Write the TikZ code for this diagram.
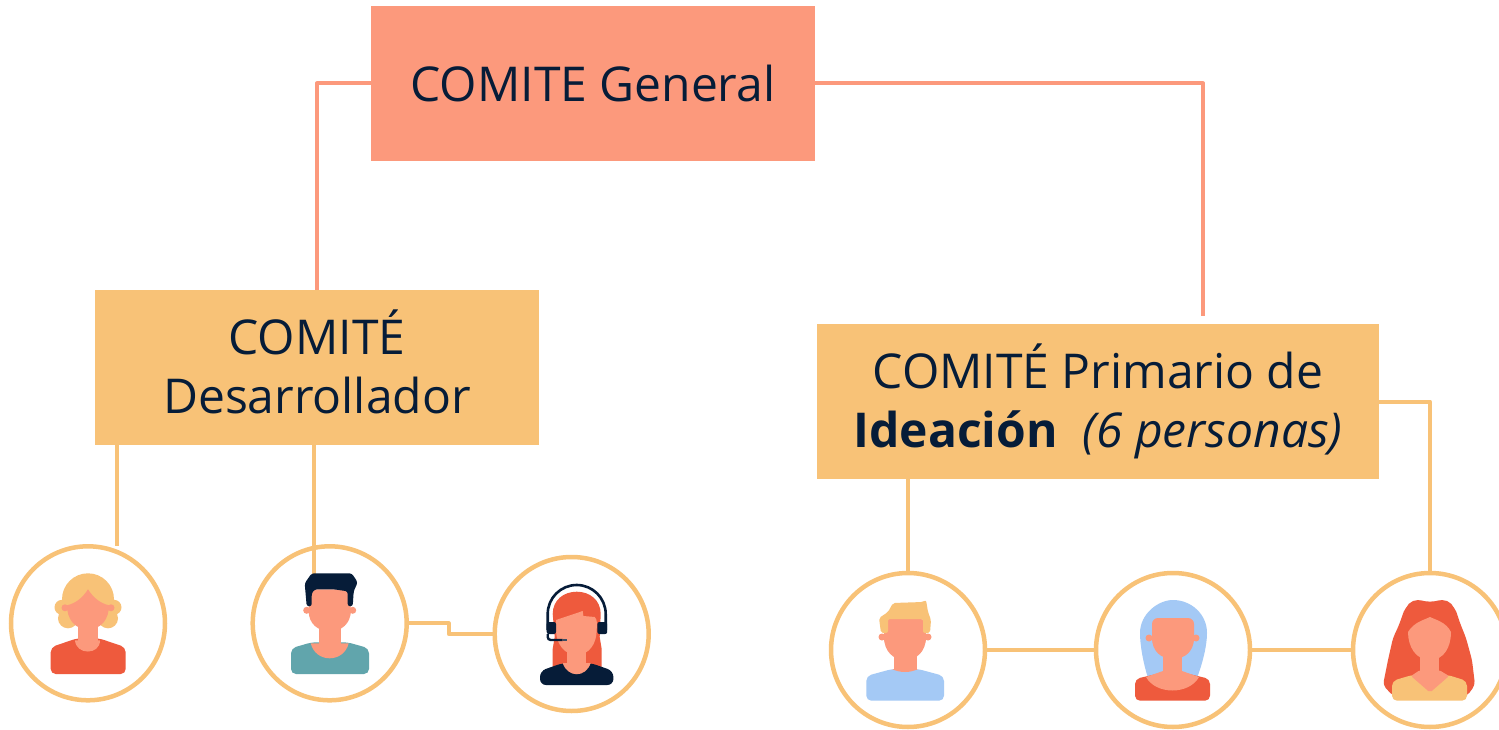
\documentclass[tikz,border=0pt]{standalone}
\usepackage{fontspec}
\setmainfont{Open Sans}
\usetikzlibrary{positioning,calc}
\definecolor{salmonpink}{RGB}{252,153,124}
\definecolor{sandorange}{RGB}{248,194,119}
\definecolor{deepnavy}{RGB}{6,28,56}
\definecolor{hairred}{RGB}{238,90,61}
\definecolor{skyblue}{RGB}{164,201,245}
\definecolor{shirtteal}{RGB}{97,165,172}
\definecolor{micgrey}{RGB}{62,78,100}
\tikzset{
    titlebox/.style={rectangle, minimum width=444pt, minimum height=155pt, inner sep=0pt, outer sep=0pt, align=center, text=deepnavy, font=\fontsize{48}{59}\selectfont},
    persona/.style={circle, draw=sandorange, line width=4.5pt, fill=white, minimum size=154pt, inner sep=0pt, outer sep=0pt},
    salmonline/.style={draw=salmonpink, line width=4pt, line join=round},
    sandline/.style={draw=sandorange, line width=4pt, line join=round}
}
% shoulders: colour, left x, right x, top of shoulder y, left neck x, right neck x, neck y
\newcommand{\shoulders}[7]{\fill[#1, rounded corners=5pt] (#2,50.7) -- (#2,#4+2) -- (#5,#7) -- (#6,#7) -- (#3,#4+2) -- (#3,50.7) -- cycle;}
\begin{document}
\begin{tikzpicture}[x=1pt, y=-1pt]
    \useasboundingbox (0,0) rectangle (1499,730);
    \clip (0,0) rectangle (1499,730);

    % Committees
    \node[titlebox, fill=salmonpink] (general) at (593,83.5) {COMITE General};
    \node[titlebox, fill=sandorange] (desarrollador) at (317,367.5) {COMITÉ\\Desarrollador\vphantom{(p}};
    \node[titlebox, fill=sandorange, minimum width=562pt] (primario) at (1098,401.5) {COMITÉ Primario de\\\textbf{Ideación}\ \ \textit{(6 personas)}};

    % People
    \node[persona] (personaA) at (88,623.3) {};
    \node[persona] (personaB) at (329.7,623.3) {};
    \node[persona] (personaC) at (571.7,634) {};
    \node[persona] (personaD) at (908,650) {};
    \node[persona] (personaE) at (1173,650) {};
    \node[persona] (personaF) at (1430,650) {};

    % Free ends
    \coordinate (tipPrimario) at (1203,316);
    \coordinate (tipA) at (117,546);
    \coordinate (tipB) at (314,576);

    % Connectors
    \draw[salmonline] (general.west) -| (desarrollador.north);
    \draw[salmonline] (general.east) -| (tipPrimario);
    \draw[sandline] (desarrollador.south -| tipA) -- (tipA);
    \draw[sandline] (desarrollador.south -| tipB) -- (tipB);
    \draw[sandline] (personaB.east) -- ++(42,0) |- (personaC.west);
    \draw[sandline] (primario.south -| personaD.north) -- (personaD.north);
    \draw[sandline] (primario.east) -| (personaF.north);
    \draw[sandline] (personaD.east) -- (personaE.west);
    \draw[sandline] (personaE.east) -- (personaF.west);

    % Blonde woman
    \begin{scope}[shift={(88,623.3)}]
        \fill[sandorange] (0,-24) circle (26pt) (-26,-16) circle (7.5pt) (26,-16) circle (7.5pt) (-20,-5) circle (10pt) (20,-5) circle (10pt) (-26,-24) rectangle (26,-5);
        \shoulders{hairred}{-37.3}{37.7}{22}{-11}{11}{15}
        \fill[salmonpink] (-10,0) rectangle (10,20);
        \fill[salmonpink] (-13,17) .. controls (-12,32) and (12,32) .. (12,17) -- cycle;
        \fill[salmonpink] (0,-34) .. controls (-5,-26) and (-12,-20) .. (-21,-18) .. controls (-21,-5) and (-14,6) .. (0,6) .. controls (14,6) and (21,-5) .. (21,-18) .. controls (12,-20) and (5,-26) .. (0,-34) -- cycle;
        \fill[salmonpink] (-23,-15.5) circle (3.5pt) (23,-15.5) circle (3.5pt);
    \end{scope}

    % Dark haired man
    \begin{scope}[shift={(329.7,623.3)}]
        \shoulders{shirtteal}{-38.7}{39.3}{23}{-18}{18}{19}
        \fill[salmonpink] (-11,0) rectangle (11,24);
        \fill[salmonpink] (-19,20) .. controls (-14,40) and (14,40) .. (19,20) -- cycle;
        \fill[salmonpink, rounded corners=6pt] (-21,-34) rectangle (21,-5);
        \fill[salmonpink] (-21,-12) .. controls (-21,0) and (-12,8) .. (0,8) .. controls (12,8) and (21,0) .. (21,-12) -- cycle;
        \fill[salmonpink] (-23,-13) circle (3.5pt) (23,-13) circle (3.5pt);
        \fill[deepnavy, rounded corners=2.5pt] (-25,-40) -- (-18,-50) -- (22,-50) -- (28,-41) -- (24,-32) -- (23,-17) -- (18,-17) -- (18,-32) -- (4,-34) -- (-15,-34) -- (-18,-30) -- (-18,-17) -- (-23,-17) -- cycle;
    \end{scope}

    % Woman with headset
    \begin{scope}[shift={(571.7,634)}]
        \fill[hairred] (-19,33) -- (-19,15) -- (-17,3) -- (-19,-20) .. controls (-19,-34) and (-8,-42.3) .. (5,-42.3) .. controls (18,-42.3) and (29,-34) .. (29,-20) -- (28,3) -- (30,15) -- (30,33) -- cycle;
        \fill[deepnavy, rounded corners=6pt] (-31.7,51) -- (-31.7,37) -- (-9,29) -- (19,29) -- (41.7,37) -- (41.7,51) -- cycle;
        \fill[salmonpink] (-5,8) rectangle (14,32);
        \fill[salmonpink] (-9,29) .. controls (-4,44) and (14,44) .. (19,29) -- cycle;
        \fill[salmonpink] (-15.7,-14) -- (11,-23) -- (11.7,-18) -- (23,-17) .. controls (26,-14) and (25,-10) .. (25,-4) .. controls (25,10) and (17,21) .. (5,21) .. controls (-7,21) and (-15.7,10) .. (-15.7,-4) -- cycle;
        \draw[deepnavy, line width=2.6pt] (-24,-4) -- (-24,-20) arc[start angle=180, end angle=0, radius=29pt] -- (34,-4);
        \fill[deepnavy, rounded corners=2pt] (-25,-12) rectangle (-15.7,0) (25.7,-12) rectangle (35.5,0);
        \draw[deepnavy, line width=2.4pt, rounded corners=3pt] (-24,0) -- (-24,6) -- (-9,6);
        \draw[micgrey, line width=2.4pt] (-9,6) -- (-5,6);
    \end{scope}

    % Blond man
    \begin{scope}[shift={(908,650)}]
        \shoulders{skyblue}{-41.7}{36}{24}{-16}{10}{19}
        \fill[salmonpink] (-14,0) rectangle (9,20);
        \fill[salmonpink] (-16,19) .. controls (-8,23) and (2,23) .. (10,19) -- cycle;
        \fill[salmonpink, rounded corners=5pt] (-24,-31) rectangle (18,-5);
        \fill[salmonpink] (-24,-13) .. controls (-24,2) and (-14,10) .. (-3,10) .. controls (8,10) and (18,2) .. (18,-13) -- cycle;
        \fill[salmonpink] (-26,-13) circle (3.5pt) (20,-13) circle (3.5pt);
        \fill[sandorange, rounded corners=2pt] (-27,-17) -- (-29,-32) -- (-20,-38) -- (-15,-47) -- (15,-48) -- (18,-50) -- (20,-38) -- (23,-30) -- (22,-17) -- (15,-17) -- (15,-31) -- (-20,-31) -- (-20,-17) -- cycle;
    \end{scope}

    % Woman with blue hair
    \begin{scope}[shift={(1173,650)}]
        \fill[skyblue] (-25,28) .. controls (-30,12) and (-33,-5) .. (-33,-17) .. controls (-33,-36) and (-15,-50) .. (0,-50) .. controls (18,-50) and (34,-36) .. (34,-17) .. controls (34,-5) and (30,12) .. (24,28) -- cycle;
        \shoulders{hairred}{-38}{37}{27}{-12}{12}{23}
        \fill[salmonpink] (-10,0) rectangle (9,24);
        \fill[salmonpink] (-27,27) -- (-10,21) -- (9,21) -- (26,27) .. controls (16,45) and (-17,45) .. (-27,27) -- cycle;
        \fill[salmonpink, rounded corners=6pt] (-21,-32) rectangle (21,-5);
        \fill[salmonpink] (-21,-12) .. controls (-21,1) and (-12,9) .. (0,9) .. controls (12,9) and (21,1) .. (21,-12) -- cycle;
        \fill[salmonpink] (-24,-12) circle (3.5pt) (23,-12) circle (3.5pt);
    \end{scope}

    % Woman with red hair
    \begin{scope}[shift={(1430,650)}]
        \fill[hairred] (-12,-37) circle (13pt) (12,-37) circle (13pt);
        \fill[hairred, rounded corners=4pt] (0,-48) -- (-12,-50) -- (-25,-42) -- (-31,-25) -- (-37,-12) -- (-42,10) -- (-47,35) -- (-37,46) -- (37,46) -- (45,35) -- (42,10) -- (36,-12) -- (30,-27) -- (25,-42) -- (12,-50) -- cycle;
        \fill[sandorange, rounded corners=5pt] (-38,50.7) -- (-38,31) -- (-18,25) -- (18,25) -- (37,31) -- (37,50.7) -- cycle;
        \fill[salmonpink] (-10,0) rectangle (9,28);
        \fill[salmonpink, rounded corners=2pt] (-19,26) -- (0,42.5) -- (19,26) -- (9,20) -- (-10,20) -- cycle;
        \fill[salmonpink] (0,-33) .. controls (-6,-30) and (-16,-28) .. (-22,-18) .. controls (-22,-3) and (-14,10) .. (0,10) .. controls (14,10) and (21,-3) .. (21,-18) .. controls (16,-28) and (6,-30) .. (0,-33) -- cycle;
    \end{scope}
\end{tikzpicture}
\end{document}
